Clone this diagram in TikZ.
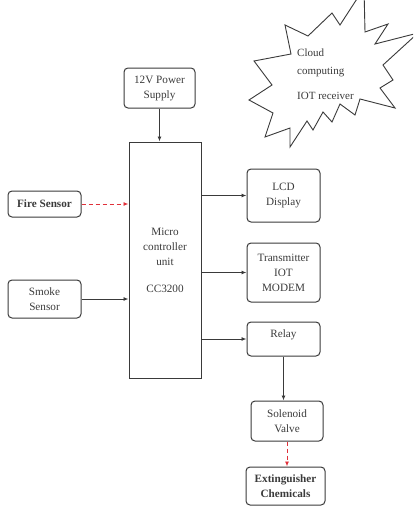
\documentclass[tikz,border=0pt]{standalone}
\usepackage{fontspec}
\setmainfont{Liberation Serif}
\usetikzlibrary{arrows.meta,calc}
\definecolor{ink}{HTML}{3A3A3A}
\definecolor{redline}{HTML}{E0303A}
\begin{document}
\begin{tikzpicture}[x=1pt,y=-1pt,
  box/.style={draw=ink,line width=1pt,rounded corners=4pt,align=center,
    inner sep=0pt,font=\fontsize{11.2}{15}\selectfont,text=ink},
  mcubox/.style={draw=ink,line width=1pt,align=center,inner sep=0pt,
    font=\fontsize{11.2}{15}\selectfont,text=ink},
  arr/.style={draw=ink,line width=0.9pt,-{Latex[length=5pt,width=4pt]}},
  redarr/.style={draw=redline,line width=0.9pt,dash pattern=on 4pt off 3pt,
    -{Latex[length=5pt,width=4pt]}},
  burst/.style={draw=ink,line width=0.9pt,line join=miter,fill=white}
]
\useasboundingbox (0,0) rectangle (413,506);

% cloud starburst
\begin{scope}
\clip (0,0) rectangle (413,506);
\draw[burst] (285,25) -- (308,36) -- (332,13) -- (340,25) -- (364,-12) -- (365,32)
  -- (388,24) -- (375,44) -- (418,33) -- (383,65) -- (393,80) -- (380,88)
  -- (395,108) -- (360,99) -- (355,115) -- (340,104) -- (332,122) -- (323,112)
  -- (313,130) -- (307,121) -- (290,147) -- (290,128) -- (265,137) -- (273,113)
  -- (249,100) -- (272,85) -- (254,61) -- (291,54) -- cycle;
\end{scope}
\node[anchor=west,align=left,inner sep=0pt,text=ink,font=\fontsize{11}{15}\selectfont] (cloudtxt) at (297,74)
  {Cloud\\[3pt]computing\\[10pt]IOT receiver};

% boxes
\node[box,minimum width=71pt,minimum height=40pt] (pwr) at (159.5,88) {12V Power\\Supply};
\node[mcubox,minimum width=72pt,minimum height=236pt] (mcu) at (165,260)
  {Micro\\controller\\unit\\[12pt]CC3200};
\node[box,minimum width=73pt,minimum height=26pt,font=\fontsize{11.2}{15}\selectfont\bfseries] (fire) at (44.5,204) {Fire Sensor};
\node[box,minimum width=73pt,minimum height=38pt] (smoke) at (44.5,299) {Smoke\\Sensor};
\node[box,minimum width=73pt,minimum height=53pt] (lcd) at (283.5,195.5) {LCD\\Display};
\node[box,minimum width=73pt,minimum height=59pt] (tx) at (283.5,272.5) {Transmitter\\IOT\\MODEM};
\node[box,minimum width=73pt,minimum height=34pt] (relay) at (283.5,339) {\raisebox{10pt}{Relay}};
\node[box,minimum width=72pt,minimum height=40pt] (sol) at (287,421) {Solenoid\\Valve};
\node[box,minimum width=79pt,minimum height=38pt,font=\fontsize{11.2}{15}\selectfont\bfseries] (ext) at (285.5,486) {Extinguisher\\Chemicals};

% connectors
\draw[arr] (pwr.south) -- (pwr.south |- mcu.north);
\draw[redarr] (fire.east) -- (fire.east -| mcu.west);
\draw[arr] (smoke.east) -- (smoke.east -| mcu.west);
\draw[arr] (lcd.west -| mcu.east) -- (lcd.west);
\draw[arr] (tx.west -| mcu.east) -- (tx.west);
\draw[arr] (relay.west -| mcu.east) -- (relay.west);
\draw[arr] (relay.south) -- (relay.south |- sol.north);
\draw[redarr] (sol.south) -- (sol.south |- ext.north);
\end{tikzpicture}
\end{document}
